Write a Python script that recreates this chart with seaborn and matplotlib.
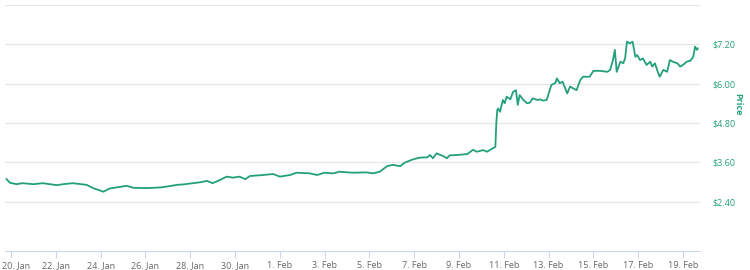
import matplotlib
matplotlib.use("Agg")
import matplotlib.pyplot as plt
import matplotlib.dates as mdates
import matplotlib.transforms as mtransforms
import numpy as np
import pandas as pd
import seaborn as sns

times = [
    "2018-01-19 19:00", "2018-01-19 23:00", "2018-01-20 06:00", "2018-01-20 12:00",
    "2018-01-21 00:00", "2018-01-21 10:00", "2018-01-22 01:00", "2018-01-22 08:00",
    "2018-01-22 18:00", "2018-01-23 09:00", "2018-01-23 16:00", "2018-01-24 03:00",
    "2018-01-24 10:00", "2018-01-24 21:00", "2018-01-25 04:00", "2018-01-25 11:00",
    "2018-01-26 02:00", "2018-01-26 16:00", "2018-01-27 02:00", "2018-01-27 10:00",
    "2018-01-27 16:00", "2018-01-28 11:00", "2018-01-28 18:00", "2018-01-29 00:00",
    "2018-01-29 08:00", "2018-01-29 15:00", "2018-01-29 22:00", "2018-01-30 05:00",
    "2018-01-30 11:00", "2018-01-30 16:00", "2018-01-31 06:00", "2018-01-31 17:00",
    "2018-02-01 00:00", "2018-02-01 11:00", "2018-02-01 18:00", "2018-02-02 08:00",
    "2018-02-02 16:00", "2018-02-03 00:00", "2018-02-03 09:00", "2018-02-03 16:00",
    "2018-02-04 06:00", "2018-02-04 21:00", "2018-02-05 04:00", "2018-02-05 11:00",
    "2018-02-05 19:00", "2018-02-06 01:00", "2018-02-06 09:00", "2018-02-06 14:00",
    "2018-02-06 23:00", "2018-02-07 06:00", "2018-02-07 14:00", "2018-02-07 17:00",
    "2018-02-07 20:00", "2018-02-08 00:00", "2018-02-08 07:00", "2018-02-08 11:00",
    "2018-02-08 14:00", "2018-02-08 22:00", "2018-02-09 09:00", "2018-02-09 15:00",
    "2018-02-09 19:00", "2018-02-10 02:00", "2018-02-10 06:00", "2018-02-10 12:00",
    "2018-02-10 15:00", "2018-02-10 16:00", "2018-02-10 17:00", "2018-02-10 18:00",
    "2018-02-10 20:00", "2018-02-10 23:00", "2018-02-11 01:00", "2018-02-11 03:00",
    "2018-02-11 07:00", "2018-02-11 10:00", "2018-02-11 13:00", "2018-02-11 15:00",
    "2018-02-11 17:00", "2018-02-11 21:00", "2018-02-12 01:00", "2018-02-12 04:00",
    "2018-02-12 07:00", "2018-02-12 12:00", "2018-02-12 15:00", "2018-02-12 18:00",
    "2018-02-12 22:00", "2018-02-13 03:00", "2018-02-13 07:00", "2018-02-13 09:00",
    "2018-02-13 12:00", "2018-02-13 15:00", "2018-02-13 20:00", "2018-02-13 23:00",
    "2018-02-14 02:00", "2018-02-14 06:00", "2018-02-14 10:00", "2018-02-14 13:00",
    "2018-02-14 20:00", "2018-02-15 00:00", "2018-02-15 07:00", "2018-02-15 15:00",
    "2018-02-15 18:00", "2018-02-15 21:00", "2018-02-15 23:00", "2018-02-16 01:00",
    "2018-02-16 05:00", "2018-02-16 08:00", "2018-02-16 10:00", "2018-02-16 12:00",
    "2018-02-16 15:00", "2018-02-16 18:00", "2018-02-16 21:00", "2018-02-16 23:00",
    "2018-02-17 02:00", "2018-02-17 05:00", "2018-02-17 09:00", "2018-02-17 13:00",
    "2018-02-17 15:00", "2018-02-17 18:00", "2018-02-17 21:00", "2018-02-17 23:00",
    "2018-02-18 03:00", "2018-02-18 07:00", "2018-02-18 10:00", "2018-02-18 13:00",
    "2018-02-18 18:00", "2018-02-18 21:00", "2018-02-19 00:00", "2018-02-19 04:00",
    "2018-02-19 08:00", "2018-02-19 11:00", "2018-02-19 13:00", "2018-02-19 15:00",
    "2018-02-19 16:00",
]
prices = [
    3.09, 2.97, 2.93, 2.96, 2.93, 2.96, 2.90, 2.93,
    2.96, 2.91, 2.81, 2.70, 2.80, 2.85, 2.88, 2.82,
    2.81, 2.83, 2.87, 2.91, 2.92, 2.99, 3.03, 2.96,
    3.06, 3.16, 3.13, 3.16, 3.08, 3.18, 3.21, 3.24,
    3.16, 3.21, 3.28, 3.26, 3.21, 3.28, 3.26, 3.31,
    3.28, 3.29, 3.26, 3.31, 3.48, 3.52, 3.48, 3.59,
    3.69, 3.74, 3.75, 3.82, 3.72, 3.87, 3.79, 3.72,
    3.81, 3.82, 3.85, 3.98, 3.92, 3.97, 3.92, 4.02,
    4.07, 4.80, 5.19, 5.24, 5.14, 5.50, 5.40, 5.60,
    5.52, 5.75, 5.80, 5.35, 5.65, 5.50, 5.40, 5.42,
    5.55, 5.50, 5.52, 5.48, 5.50, 5.96, 6.01, 6.16,
    6.01, 6.06, 5.70, 5.91, 5.86, 5.80, 6.11, 6.21,
    6.21, 6.39, 6.39, 6.36, 6.42, 6.72, 7.03, 6.36,
    6.67, 6.62, 6.77, 7.28, 7.23, 7.28, 6.82, 6.87,
    6.72, 6.77, 6.57, 6.67, 6.52, 6.62, 6.36, 6.21,
    6.42, 6.36, 6.72, 6.67, 6.62, 6.52, 6.57, 6.67,
    6.70, 6.82, 7.13, 7.03, 7.08,
]
y_ticks = [2.40, 3.60, 4.80, 6.00, 7.20, 8.40]
y_tick_labels = ["$2.40", "$3.60", "$4.80", "$6.00", "$7.20", ""]
x_tick_start = "2018-01-20"
x_tick_count = 16

df = pd.DataFrame({"time": pd.to_datetime(times), "price": prices})

sns.set_theme(style="white")
plt.rcParams["font.family"] = ["Open Sans", "DejaVu Sans"]

green = "#23a07b"
fig = plt.figure(figsize=(7.5, 2.7), dpi=100)
ax = fig.add_axes([5 / 750, 19 / 270, 695 / 750, 246 / 270])

sns.lineplot(data=df, x="time", y="price", ax=ax, color=green, linewidth=1.3)

ax.set_xlim(pd.Timestamp("2018-01-19 17:34"), pd.Timestamp("2018-02-19 18:15"))
ax.set_ylim(0.89, 8.4)

ax.set_yticks(y_ticks)
ax.set_yticklabels(y_tick_labels)
ax.yaxis.tick_right()
ax.tick_params(axis="y", length=0, pad=9, labelsize=6.5, labelcolor=green)
ax.grid(axis="y", color="#e6e6e6", linewidth=0.9)
ax.set_axisbelow(True)

xt = pd.date_range(x_tick_start, periods=x_tick_count, freq="2D")
ax.set_xticks(xt)
ax.xaxis.set_major_formatter(mdates.DateFormatter("%-d. %b"))
ax.tick_params(axis="x", length=5, width=0.8, color="#ccd6eb", pad=2,
               labelsize=6.5, labelcolor="#666666", direction="out", bottom=True)

fig.canvas.draw()
first = ax.get_xticklabels()[0]
first.set_transform(first.get_transform() +
                    mtransforms.ScaledTranslation(5 / 100, 0, fig.dpi_scale_trans))

for s in ["top", "left", "right"]:
    ax.spines[s].set_visible(False)
ax.spines["bottom"].set_color("#ccd6eb")
ax.spines["bottom"].set_linewidth(0.8)

ax.set_xlabel("")
ax.set_ylabel("")
fig.text(738 / 750, 1 - 104 / 270, "Price", rotation=270, color=green,
         fontsize=6.5, fontweight="bold", ha="center", va="center")

fig.savefig("out.png", dpi=100, facecolor="white")
